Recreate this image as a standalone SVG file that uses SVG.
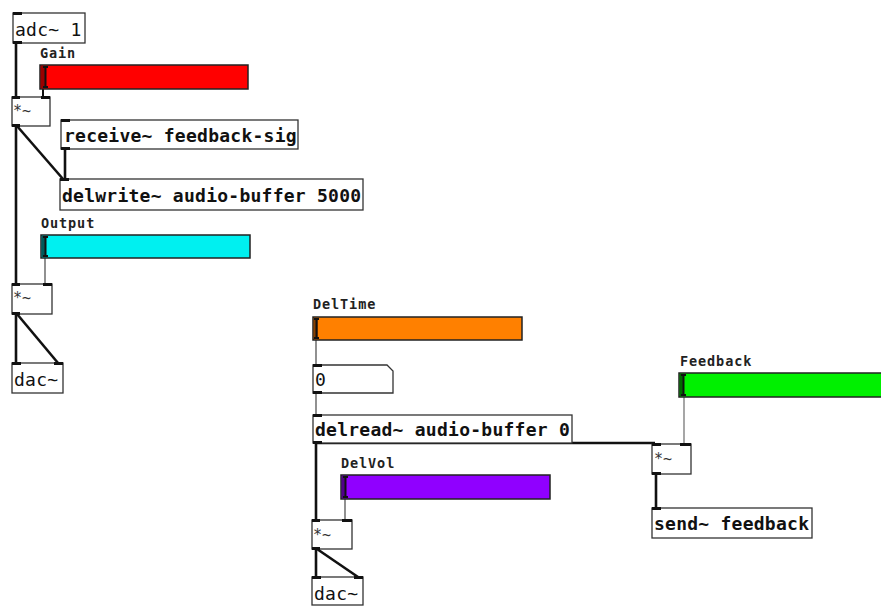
<svg xmlns="http://www.w3.org/2000/svg" width="881" height="606" viewBox="0 0 881 606">
<style>
.box{fill:#fff;stroke:#333;stroke-width:1.3}
.t{font-family:"DejaVu Sans Mono",monospace;font-size:18px;fill:#111;letter-spacing:0.25px}
.b{font-weight:bold}
.s{font-family:"DejaVu Sans Mono",monospace;font-size:15px;fill:#333}
.lbl{font-family:"DejaVu Sans Mono",monospace;font-size:13.5px;font-weight:bold;fill:#222;letter-spacing:0.9px}
.io{fill:#111}
.sl{stroke:#222;stroke-width:1.5}
.knob{fill:none;stroke:#111;stroke-width:2}
.sig{stroke:#111;stroke-width:2.6;fill:none}
.ctl{stroke:#555;stroke-width:1.3;fill:none}
</style>
<g id="connectors">
<line class="sig" x1="16" y1="43" x2="16" y2="97"/>
<line class="ctl" x1="43" y1="89" x2="43" y2="97" style="stroke:#111;stroke-width:2"/>
<line class="sig" x1="16" y1="126" x2="16" y2="284"/>
<line class="sig" x1="17" y1="126" x2="63" y2="179"/>
<line class="sig" x1="65" y1="149" x2="65" y2="179"/>
<line class="ctl" x1="45" y1="258" x2="45" y2="284"/>
<line class="sig" x1="16" y1="314" x2="16" y2="363"/>
<line class="sig" x1="17" y1="314" x2="58" y2="363"/>
<line class="ctl" x1="316" y1="340" x2="316" y2="365"/>
<line class="ctl" x1="316" y1="393" x2="316" y2="415"/>
<line class="sig" x1="316" y1="443" x2="316" y2="520"/>
<line class="sig" x1="316" y1="443" x2="655" y2="443"/>
<line class="ctl" x1="345" y1="499" x2="345" y2="520"/>
<line class="sig" x1="316" y1="549" x2="316" y2="577"/>
<line class="sig" x1="317" y1="549" x2="358" y2="577"/>
<line class="ctl" x1="684" y1="397" x2="684" y2="444" style="stroke:#777"/>
<line class="sig" x1="656" y1="474" x2="656" y2="508"/>
</g>
<g id="adc">
<rect class="box" x="13" y="13" width="72" height="30"/>
<rect class="io" x="13" y="12" width="9" height="3"/>
<rect class="io" x="13" y="41" width="9" height="3"/>
<text class="t" x="15" y="36">adc~ 1</text>
</g>
<g id="gain">
<text class="lbl" x="40" y="58">Gain</text>
<rect class="sl" x="40" y="65" width="208" height="24" fill="#f00"/>
<rect x="40.8" y="65.8" width="5" height="22.4" fill="#900"/>
<path class="knob" d="M43 67h5M45.5 67v20M43 87h5"/>
</g>
<g id="mul1">
<rect class="box" x="12" y="97" width="38" height="29"/>
<rect class="io" x="12" y="96" width="8" height="3"/>
<rect class="io" x="41" y="96" width="9" height="3"/>
<rect class="io" x="12" y="124" width="8" height="3"/>
<text class="s" x="13" y="116">*~</text>
</g>
<g id="receive">
<rect class="box" x="61" y="120" width="237" height="29"/>
<rect class="io" x="61" y="119" width="9" height="3"/>
<rect class="io" x="61" y="147" width="9" height="3"/>
<text class="t b" x="64" y="142">receive~ feedback-sig</text>
</g>
<g id="delwrite">
<rect class="box" x="60" y="179" width="303" height="31"/>
<rect class="io" x="60" y="178" width="9" height="3"/>
<text class="t b" x="62" y="202">delwrite~ audio-buffer 5000</text>
</g>
<g id="output">
<text class="lbl" x="41" y="228">Output</text>
<rect class="sl" x="41" y="235" width="209" height="23" fill="#00f0f0"/>
<rect x="41.8" y="235.8" width="4" height="21.4" fill="#005a5a"/>
<path class="knob" d="M43 237h5M45.5 237v19M43 256h5"/>
</g>
<g id="mul2">
<rect class="box" x="12" y="284" width="40" height="30"/>
<rect class="io" x="12" y="283" width="8" height="3"/>
<rect class="io" x="43" y="283" width="9" height="3"/>
<rect class="io" x="12" y="312" width="8" height="3"/>
<text class="s" x="13" y="303">*~</text>
</g>
<g id="dac1">
<rect class="box" x="12" y="363" width="51" height="30"/>
<rect class="io" x="12" y="362" width="9" height="3"/>
<rect class="io" x="54" y="362" width="9" height="3"/>
<text class="t" x="14" y="386">dac~</text>
</g>
<g id="deltime">
<text class="lbl" x="313" y="309">DelTime</text>
<rect class="sl" x="313" y="317" width="209" height="23" fill="#ff8000"/>
<rect x="313.8" y="317.8" width="4" height="21.4" fill="#8a4000"/>
<path class="knob" d="M314 319h5M316.5 319v19M314 338h5"/>
</g>
<g id="numbox">
<path class="box" d="M313 365H387L393 371V393H313Z"/>
<rect class="io" x="313" y="364" width="9" height="3"/>
<rect class="io" x="313" y="391" width="9" height="3"/>
<text class="t" x="315" y="386">0</text>
</g>
<g id="delread">
<rect class="box" x="313" y="415" width="259" height="28"/>
<rect class="io" x="313" y="414" width="9" height="3"/>
<rect class="io" x="313" y="441" width="9" height="3"/>
<text class="t b" x="315" y="436">delread~ audio-buffer 0</text>
</g>
<g id="delvol">
<text class="lbl" x="341" y="468">DelVol</text>
<rect class="sl" x="341" y="475" width="209" height="24" fill="#9000ff"/>
<rect x="341.8" y="475.8" width="4" height="22.4" fill="#50008a"/>
<path class="knob" d="M343 477h5M345.5 477v20M343 497h5"/>
</g>
<g id="mul3">
<rect class="box" x="312" y="520" width="40" height="29"/>
<rect class="io" x="312" y="519" width="8" height="3"/>
<rect class="io" x="342" y="519" width="10" height="3"/>
<rect class="io" x="312" y="547" width="8" height="3"/>
<text class="s" x="313" y="540">*~</text>
</g>
<g id="dac2">
<rect class="box" x="312" y="577" width="51" height="28"/>
<rect class="io" x="312" y="576" width="9" height="3"/>
<rect class="io" x="354" y="576" width="9" height="3"/>
<text class="t" x="314" y="600">dac~</text>
</g>
<g id="feedback">
<text class="lbl" x="680" y="366">Feedback</text>
<rect class="sl" x="679" y="373" width="215" height="24" fill="#00f000"/>
<rect x="679.8" y="373.8" width="4" height="22.4" fill="#006a00"/>
<path class="knob" d="M681 375h5M683.5 375v20M681 395h5"/>
</g>
<g id="mul4">
<rect class="box" x="652" y="444" width="39" height="30"/>
<rect class="io" x="652" y="443" width="9" height="3"/>
<rect class="io" x="680" y="443" width="11" height="3"/>
<rect class="io" x="652" y="472" width="9" height="3"/>
<text class="s" x="654" y="464">*~</text>
</g>
<g id="send">
<rect class="box" x="652" y="508" width="160" height="30"/>
<rect class="io" x="652" y="507" width="9" height="3"/>
<text class="t b" x="654" y="530">send~ feedback</text>
</g>
</svg>
